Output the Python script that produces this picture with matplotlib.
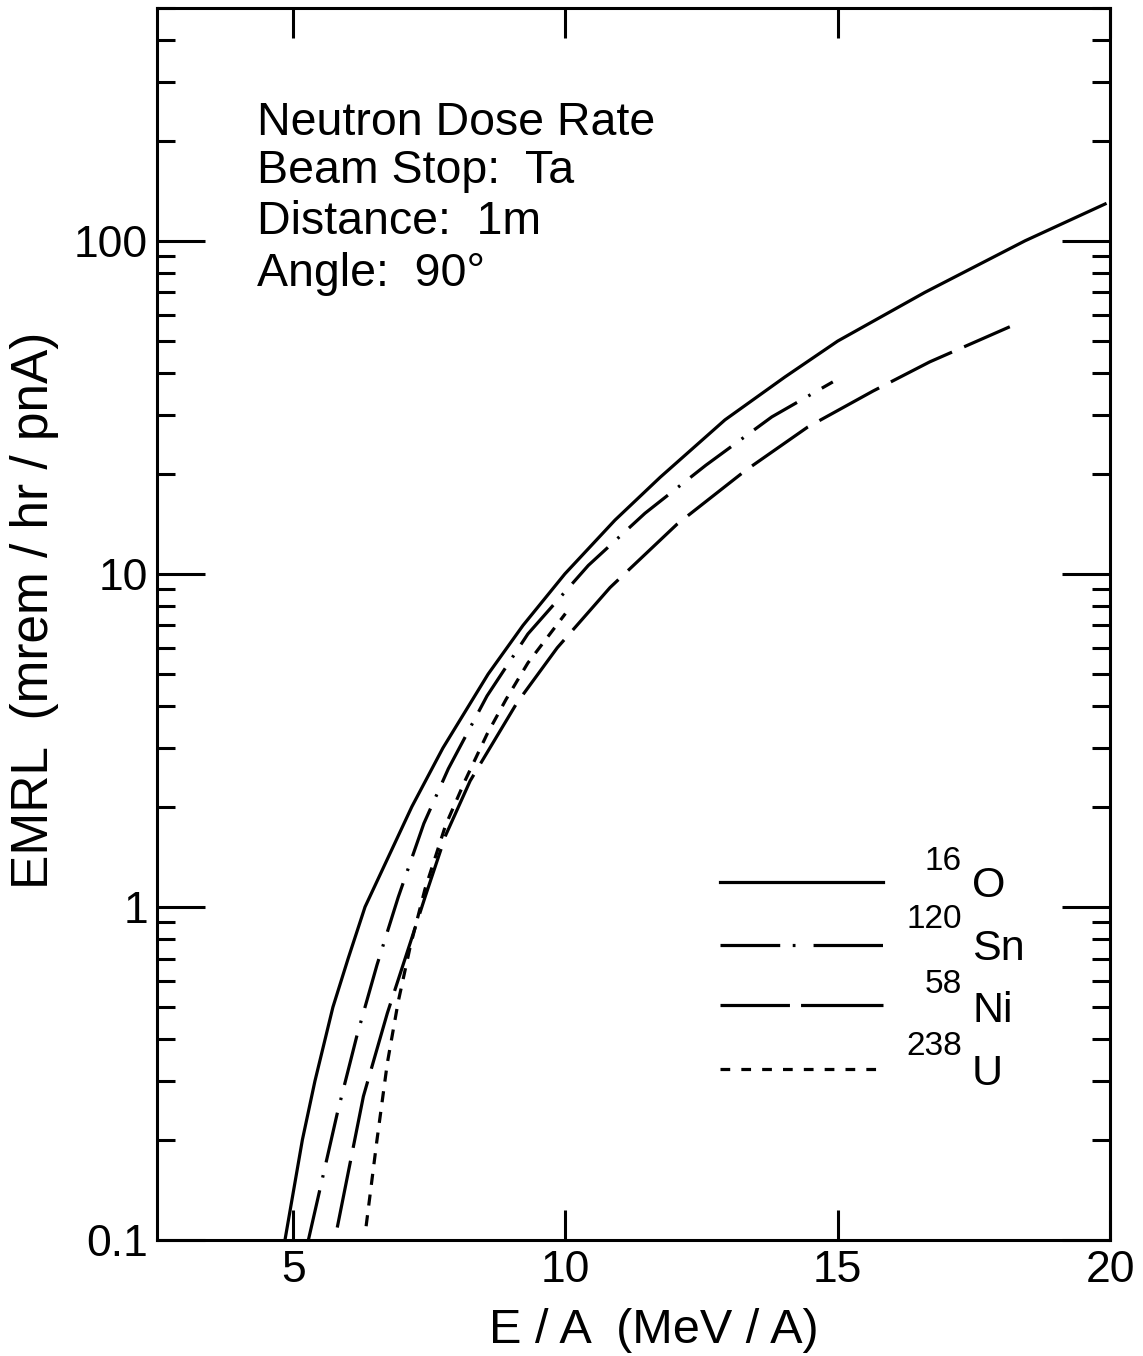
import matplotlib
matplotlib.use('Agg')
import matplotlib.pyplot as plt
from matplotlib.ticker import LogLocator, NullFormatter, NullLocator

plt.rcParams['font.family'] = ['Liberation Sans', 'DejaVu Sans']
plt.rcParams['lines.scale_dashes'] = False

# ---- data ----
o16_x = [4.85, 5.17, 5.40, 5.73, 6.01, 6.32, 7.18, 7.75, 8.58, 9.22, 9.99, 10.91, 11.74,
         12.93, 14.03, 15.0, 16.6, 18.44, 19.91]
o16_y = [0.1, 0.2, 0.3, 0.5, 0.7, 1.0, 2.0, 3.0, 5.0, 7.0, 10.0, 14.5, 19.5,
         29.0, 39.0, 50.0, 70.0, 100.0, 129.0]

sn_x = [5.28, 5.81, 6.17, 6.54, 6.93, 7.40, 7.85, 8.56, 9.31, 10.42, 11.46, 12.58, 13.79, 14.91]
sn_y = [0.1, 0.24, 0.41, 0.67, 1.07, 1.78, 2.6, 4.3, 6.6, 10.6, 15.2, 21.2, 29.6, 37.7]

ni_x = [5.81, 6.29, 6.73, 7.15, 7.43, 7.80, 8.25, 9.11, 9.85, 10.82, 12.05, 13.3, 14.45,
        15.65, 16.69, 18.16]
ni_y = [0.109, 0.27, 0.48, 0.78, 1.08, 1.64, 2.39, 4.1, 6.0, 9.1, 14.1, 20.4, 27.6,
        35.4, 43.3, 55.2]

u_x = [6.34, 6.54, 6.73, 6.93, 7.15, 7.42, 7.80, 8.16, 8.56, 8.91, 9.31, 10.0]
u_y = [0.11, 0.20, 0.34, 0.52, 0.76, 1.13, 1.76, 2.4, 3.3, 4.2, 5.4, 7.6]

x_ticks = [5, 10, 15, 20]
x_tick_labels = ['5', '10', '15', '20']
y_ticks = [0.1, 1, 10, 100]
y_tick_labels = ['0.1', '1', '10', '100']

legend_mass = ['16', '120', '58', '238']
legend_elem = ['O', 'Sn', 'Ni', 'U']

info_lines = ['Neutron Dose Rate', 'Beam Stop:  Ta', 'Distance:  1m', 'Angle:  90\u00b0']

# ---- figure ----
W, H = 1143, 1356
fig = plt.figure(figsize=(W / 100, H / 100), dpi=100)
L, R, T, B = 157, 1110, 8, 1240
ax = fig.add_axes([L / W, 1 - B / H, (R - L) / W, (B - T) / H])
ax.set_yscale('log')
ax.set_xlim(2.5, 20)
ax.set_ylim(0.1, 500)

lw = 2.3
styles = {
    'o16': dict(linestyle='-'),
    'sn': dict(dashes=(36.7, 9.4, 1.8, 9.4)),
    'ni': dict(dashes=(49, 9.5)),
    'u': dict(dashes=(8, 7)),
}
legend_styles = {
    'o16': dict(linestyle='-'),
    'sn': dict(dashes=(43, 9, 2, 13, 50, 10)),
    'ni': dict(dashes=(50, 8, 60, 10)),
    'u': dict(dashes=(7, 8)),
}
ax.plot(o16_x, o16_y, color='black', lw=lw, **styles['o16'])
ax.plot(sn_x, sn_y, color='black', lw=lw, **styles['sn'])
ax.plot(ni_x, ni_y, color='black', lw=lw, **styles['ni'])
ax.plot(u_x, u_y, color='black', lw=lw, **styles['u'])

for sp in ax.spines.values():
    sp.set_linewidth(2.2)

ax.set_xticks(x_ticks)
ax.set_xticklabels(x_tick_labels)
ax.xaxis.set_minor_locator(NullLocator())
ax.set_yticks(y_ticks)
ax.set_yticklabels(y_tick_labels)
ax.yaxis.set_minor_locator(LogLocator(base=10, subs=range(2, 10), numticks=20))
ax.yaxis.set_minor_formatter(NullFormatter())

ax.tick_params(axis='x', which='major', direction='in', length=21.6, width=2.2,
               top=True, labelsize=32, pad=7)
ax.tick_params(axis='y', which='major', direction='in', length=34.6, width=2.2,
               right=True, labelsize=32, pad=6.5)
ax.tick_params(axis='y', which='minor', direction='in', length=13, width=2.2,
               right=True)

ax.set_xlabel('E / A  (MeV / A)', fontsize=35)
ax.xaxis.set_label_coords(0.521, -0.055)
ax.set_ylabel('EMRL  (mrem / hr / pnA)', fontsize=37)
ax.yaxis.set_label_coords(-0.103, 0.511)

# info text
info_y = [0.8969, 0.858, 0.8166, 0.7744]
for s, yy in zip(info_lines, info_y):
    ax.text(0.105, yy, s, transform=ax.transAxes, fontsize=33.5, va='baseline', ha='left')

# legend (manual)
leg_line_y = [0.2906, 0.2394, 0.1907, 0.1388]
leg_elem_y = [0.2784, 0.2273, 0.1769, 0.1258]
leg_mass_y = [0.3003, 0.2532, 0.2005, 0.1502]
for key, ly, ey, my, m, e in zip(['o16', 'sn', 'ni', 'u'], leg_line_y, leg_elem_y,
                                 leg_mass_y, legend_mass, legend_elem):
    ax.plot([0.5908, 0.7618], [ly, ly], transform=ax.transAxes, color='black',
            lw=lw, clip_on=False, **legend_styles[key])
    ax.text(0.8447, my, m, transform=ax.transAxes, fontsize=24, ha='right', va='baseline')
    ax.text(0.8552, ey, e, transform=ax.transAxes, fontsize=31, ha='left', va='baseline')

fig.savefig('out.png', dpi=100)
